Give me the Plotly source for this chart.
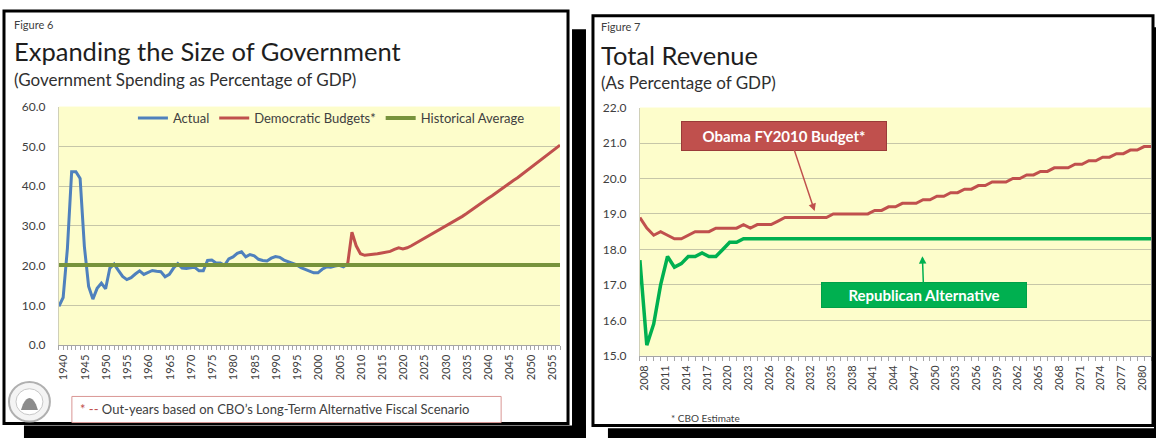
import plotly.graph_objects as go

W, H = 1156, 445


def px(x):
    return x / W


def py(y):
    return 1 - y / H


# ---------------- data: Figure 6 ----------------
actual_years = list(range(1940, 2009))
actual_vals = [9.8, 12.0, 24.3, 43.6, 43.6, 41.9, 24.8, 14.8, 11.6, 14.3,
               15.6, 14.2, 19.4, 20.4, 18.8, 17.3, 16.5, 17.0, 17.9, 18.7,
               17.8, 18.4, 18.8, 18.6, 18.5, 17.2, 17.8, 19.4, 20.5, 19.4,
               19.3, 19.5, 19.6, 18.7, 18.7, 21.3, 21.4, 20.7, 20.7, 20.1,
               21.7, 22.2, 23.1, 23.5, 22.2, 22.8, 22.5, 21.6, 21.3, 21.2,
               21.9, 22.3, 22.1, 21.4, 21.0, 20.6, 20.2, 19.5, 19.1, 18.5,
               18.2, 18.2, 19.1, 19.7, 19.6, 19.9, 20.1, 19.7, 20.5]

dem_years = list(range(2008, 2059))
dem_vals = [20.5, 28.4, 25.0, 23.0, 22.6, 22.7, 22.9, 23.0, 23.2, 23.4,
            23.6, 24.1, 24.5, 24.2, 24.5, 25.0, 25.6, 26.2, 26.9, 27.5,
            28.1, 28.7, 29.2, 29.8, 30.4, 31.0, 31.7, 32.4, 33.1, 33.9,
            34.6, 35.4, 36.1, 36.9, 37.6, 38.4, 39.1, 39.9, 40.6, 41.4,
            42.1, 42.9, 43.7, 44.5, 45.3, 46.2, 47.0, 47.9, 48.7, 49.5,
            50.3]

hist_years = [1940, 2058]
hist_vals = [20.2, 20.2]

spend_ticks = list(range(1940, 2056, 5))

# ---------------- data: Figure 7 ----------------
rev_years = list(range(2008, 2083))
obama_vals = [18.9, 18.6, 18.4, 18.5, 18.4, 18.3, 18.3, 18.4, 18.5, 18.5,
              18.5, 18.6, 18.6, 18.6, 18.6, 18.7, 18.6, 18.7, 18.7, 18.7,
              18.8, 18.9, 18.9, 18.9, 18.9, 18.9, 18.9, 18.9, 19.0, 19.0,
              19.0, 19.0, 19.0, 19.0, 19.1, 19.1, 19.2, 19.2, 19.3, 19.3,
              19.3, 19.4, 19.4, 19.5, 19.5, 19.6, 19.6, 19.7, 19.7, 19.8,
              19.8, 19.9, 19.9, 19.9, 20.0, 20.0, 20.1, 20.1, 20.2, 20.2,
              20.3, 20.3, 20.3, 20.4, 20.4, 20.5, 20.5, 20.6, 20.6, 20.7,
              20.7, 20.8, 20.8, 20.9, 20.9]
rep_vals = [17.7, 15.3, 15.9, 17.0, 17.8, 17.5, 17.6, 17.8, 17.8, 17.9,
            17.8, 17.8, 18.0, 18.2, 18.2, 18.3] + [18.3] * 59

rev_ticks = list(range(2008, 2081, 3))

# ---------------- styling ----------------
FONT = "Lato"
TXT = "#404040"
GRID = "#C6C6A8"
AXIS = "#A6A6A6"
PLOTBG = "#FDFDCB"

fig = go.Figure()

fig.add_trace(go.Scatter(x=actual_years, y=actual_vals, name="Actual", mode="lines",
                         line=dict(color="#4F81BD", width=3), xaxis="x", yaxis="y"))
fig.add_trace(go.Scatter(x=dem_years, y=dem_vals, name="Democratic Budgets*", mode="lines",
                         line=dict(color="#C0504D", width=3), xaxis="x", yaxis="y"))
fig.add_trace(go.Scatter(x=hist_years, y=hist_vals, name="Historical Average", mode="lines",
                         line=dict(color="#77933C", width=4), xaxis="x", yaxis="y"))

fig.add_trace(go.Scatter(x=rev_years, y=obama_vals, name="Obama FY2010 Budget*", mode="lines",
                         line=dict(color="#C0504D", width=3), xaxis="x2", yaxis="y2",
                         showlegend=False))
fig.add_trace(go.Scatter(x=rev_years, y=rep_vals, name="Republican Alternative", mode="lines",
                         line=dict(color="#00B050", width=3.5), xaxis="x2", yaxis="y2",
                         showlegend=False))

xcommon = dict(tickangle=-90, ticks="outside", ticklen=4, tickcolor=AXIS,
               showgrid=False, showline=True, linecolor=AXIS, linewidth=1,
               zeroline=False, tickfont=dict(family=FONT, size=11, color=TXT),
               ticklabelshift=5)
ycommon = dict(tickformat=".1f", showgrid=True, gridcolor=GRID, gridwidth=1,
               showline=True, linecolor="#D0D0B8", ticks="", zeroline=False,
               tickfont=dict(family=FONT, size=12, color=TXT), ticklabelstandoff=10)

fig.update_layout(
    width=W, height=H,
    margin=dict(l=0, r=0, t=0, b=0),
    paper_bgcolor="white",
    plot_bgcolor=PLOTBG,
    xaxis=dict(domain=[px(57), px(559)], range=[1940, 2058], tickvals=spend_ticks,
               minor=dict(ticks="outside", ticklen=4, dtick=1, tick0=1940, tickcolor=AXIS,
                          showgrid=False),
               anchor="y", **xcommon),
    yaxis=dict(domain=[py(349), py(102)], range=[0, 60], dtick=10, anchor="x", **ycommon),
    xaxis2=dict(domain=[px(639), px(1151)], range=[2008, 2082], tickvals=rev_ticks,
                minor=dict(ticks="outside", ticklen=4, dtick=1, tick0=2008, tickcolor=AXIS,
                           showgrid=False),
                anchor="y2", **xcommon),
    yaxis2=dict(domain=[py(360), py(103)], range=[15, 22], dtick=1, anchor="x2", **ycommon),
    legend=dict(orientation="h", x=px(330), xanchor="center", y=py(114), yanchor="middle",
                font=dict(family=FONT, size=13, color=TXT), bgcolor="rgba(0,0,0,0)",
                itemwidth=30, traceorder="normal"),
    showlegend=True,
)

shapes = []
# drop shadows
for (x0, y0, x1, y1) in [(571, 22, 585, 445), (22, 432, 585, 445),
                         (1154, 20, 1156, 445), (607, 435, 1156, 445)]:
    shapes.append(dict(type="rect", xref="paper", yref="paper", x0=px(x0), x1=px(x1),
                       y0=py(y1), y1=py(y0), fillcolor="black", line=dict(width=0)))
# panel borders
for (x0, y0, x1, y1) in [(2, 3, 567, 430), (592, 8, 1153, 432)]:
    shapes.append(dict(type="rect", xref="paper", yref="paper", x0=px(x0), x1=px(x1),
                       y0=py(y1), y1=py(y0), fillcolor="rgba(0,0,0,0)",
                       line=dict(color="black", width=3)))
# footnote box
shapes.append(dict(type="rect", xref="paper", yref="paper", x0=px(70), x1=px(500),
                   y0=py(429), y1=py(402), line=dict(color="#D99694", width=1)))
# seal logo
shapes.append(dict(type="circle", xref="paper", yref="paper", x0=px(7), x1=px(48),
                   y0=py(428), y1=py(387), fillcolor="#F4F4F4",
                   line=dict(color="#B0B0B0", width=2)))
shapes.append(dict(type="circle", xref="paper", yref="paper", x0=px(14), x1=px(41),
                   y0=py(421), y1=py(394), fillcolor="white",
                   line=dict(color="#C8C8C8", width=1)))
shapes.append(dict(type="path", xref="paper", yref="paper",
                   path=(f"M {px(19)},{py(416)} L {px(36)},{py(416)} L {px(34)},{py(410)} "
                         f"Q {px(27.5)},{py(397)} {px(21)},{py(410)} Z"),
                   fillcolor="#8C8C8C", line=dict(width=0)))
fig.update_layout(shapes=shapes)

ann = []


def text(x, y, s, size, color=TXT, anchor="left"):
    ann.append(dict(x=px(x), y=py(y), xref="paper", yref="paper", text=s, showarrow=False,
                    xanchor=anchor, yanchor="middle",
                    font=dict(family=FONT, size=size, color=color)))


text(10, 17, "Figure 6", 11)
text(10, 45, "Expanding the Size of Government", 25.5, "#1E1E1E")
text(10, 74, "(Government Spending as Percentage of GDP)", 17, "#303030")
text(598, 19, "Figure 7", 11)
text(598, 49, "Total Revenue", 25.5, "#1E1E1E")
text(598, 77, "(As Percentage of GDP)", 17, "#303030")
text(76, 415, "<span style='color:#C0504D'>* --</span> Out-years based on CBO’s "
     "Long-Term Alternative Fiscal Scenario", 13)
text(668, 424, "* CBO Estimate", 10)

ann.append(dict(x=px(783), y=py(132.5), xref="paper", yref="paper",
                xanchor="center", yanchor="middle",
                text="<b>Obama FY2010 Budget*</b>", showarrow=False,
                font=dict(family=FONT, size=15, color="white"), bgcolor="#C0504D",
                bordercolor="#9A3B39", borderwidth=1, borderpad=3, width=198, height=22))
ann.append(dict(x=px(923.5), y=py(297.5), xref="paper", yref="paper",
                xanchor="center", yanchor="middle",
                text="<b>Republican Alternative</b>", showarrow=False,
                font=dict(family=FONT, size=15, color="white"), bgcolor="#00B050",
                bordercolor="#00A048", borderwidth=1, borderpad=2, width=200, height=20))
ann.append(dict(x=2033.3, y=19.08, xref="x2", yref="y2", text="", showarrow=True,
                ax=-21, ay=-63, arrowhead=2, arrowsize=1, arrowwidth=1.5,
                arrowcolor="#C0504D", standoff=0))
ann.append(dict(x=2048.9, y=17.81, xref="x2", yref="y2", text="", showarrow=True,
                ax=1, ay=28, arrowhead=2, arrowsize=1, arrowwidth=1.5,
                arrowcolor="#00B050", standoff=0))
fig.update_layout(annotations=ann)

fig.write_html("out.html", config={"displayModeBar": False},
               post_script="document.body.style.margin='0';"
                           "document.documentElement.style.overflow='hidden';")
